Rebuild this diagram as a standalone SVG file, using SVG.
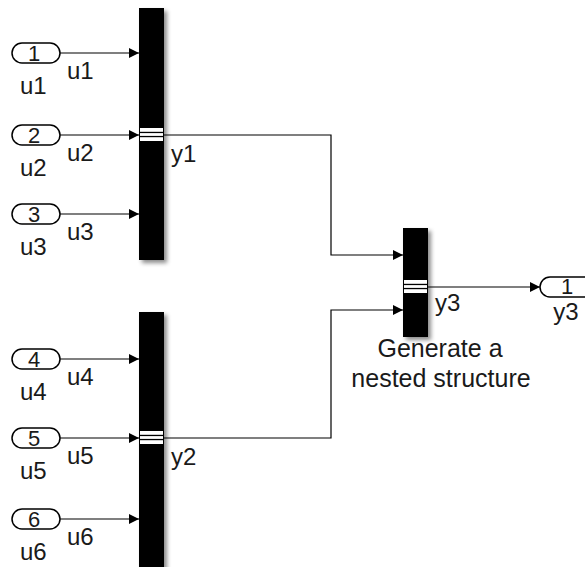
<svg xmlns="http://www.w3.org/2000/svg" width="585" height="567" viewBox="0 0 585 567">
<defs>
<style>
text{font-family:"Liberation Sans",Arial,sans-serif;fill:#1a1a1a;font-size:24px}
.pill{fill:#fff;stroke:#000;stroke-width:1.5}
.bar{fill:#000}
.wire{fill:none;stroke:#000;stroke-width:1.2}
.num{text-anchor:middle;font-size:22px}
.mid{text-anchor:middle}
.note{text-anchor:middle;font-size:25px}
</style>
<marker id="arr" viewBox="0 0 10 10" refX="10" refY="5" markerWidth="11" markerHeight="10" markerUnits="userSpaceOnUse" orient="auto">
<path d="M0,0 L10,5 L0,10 z" fill="#000"/>
</marker>
<filter id="sh" x="-50%" y="-10%" width="200%" height="120%">
<feDropShadow dx="3" dy="3" stdDeviation="2" flood-color="#000" flood-opacity="0.45"/>
</filter>
</defs>
<rect width="585" height="567" fill="#fff"/>
<g id="connectors">
<path class="wire" marker-end="url(#arr)" d="M60,53 H139"/>
<path class="wire" marker-end="url(#arr)" d="M60,135 H139"/>
<path class="wire" marker-end="url(#arr)" d="M60,214 H139"/>
<path class="wire" marker-end="url(#arr)" d="M60,359 H139"/>
<path class="wire" marker-end="url(#arr)" d="M60,438 H139"/>
<path class="wire" marker-end="url(#arr)" d="M60,519 H139"/>
<path class="wire" marker-end="url(#arr)" d="M164,135 H331 V255 H403"/>
<path class="wire" marker-end="url(#arr)" d="M164,438 H331 V310 H403"/>
<path class="wire" marker-end="url(#arr)" d="M428,287 H540"/>
<text x="67" y="79">u1</text>
<text x="67" y="161">u2</text>
<text x="67" y="240">u3</text>
<text x="67" y="385">u4</text>
<text x="67" y="464">u5</text>
<text x="67" y="545">u6</text>
<text x="171" y="162">y1</text>
<text x="171" y="465">y2</text>
<text x="435" y="311">y3</text>
</g>
<g id="in1"><rect class="pill" x="12" y="43" width="48" height="20" rx="10"/><text class="num" x="34" y="61">1</text><text x="20" y="94">u1</text></g>
<g id="in2"><rect class="pill" x="12" y="125" width="48" height="20" rx="10"/><text class="num" x="34" y="143">2</text><text x="20" y="176">u2</text></g>
<g id="in3"><rect class="pill" x="12" y="204" width="48" height="20" rx="10"/><text class="num" x="34" y="222">3</text><text x="20" y="255">u3</text></g>
<g id="in4"><rect class="pill" x="12" y="349" width="48" height="20" rx="10"/><text class="num" x="34" y="367">4</text><text x="20" y="400">u4</text></g>
<g id="in5"><rect class="pill" x="12" y="428" width="48" height="20" rx="10"/><text class="num" x="34" y="446">5</text><text x="20" y="479">u5</text></g>
<g id="in6"><rect class="pill" x="12" y="509" width="48" height="20" rx="10"/><text class="num" x="34" y="527">6</text><text x="20" y="560">u6</text></g>
<g id="bus1"><rect class="bar" filter="url(#sh)" x="139" y="8" width="25" height="252"/><rect x="140" y="128" width="23" height="13" fill="#fff"/><rect x="140" y="131.8" width="23" height="1.3" fill="#000"/><rect x="140" y="135.9" width="23" height="1.3" fill="#000"/></g>
<g id="bus2"><rect class="bar" filter="url(#sh)" x="139" y="312" width="25" height="262"/><rect x="140" y="431" width="23" height="13" fill="#fff"/><rect x="140" y="434.8" width="23" height="1.3" fill="#000"/><rect x="140" y="438.9" width="23" height="1.3" fill="#000"/></g>
<g id="bus3"><rect class="bar" filter="url(#sh)" x="403" y="228" width="25" height="109"/><rect x="404" y="280" width="23" height="13" fill="#fff"/><rect x="404" y="283.8" width="23" height="1.3" fill="#000"/><rect x="404" y="287.9" width="23" height="1.3" fill="#000"/><text class="note" x="440" y="357">Generate a</text><text class="note" x="441" y="387">nested structure</text></g>
<g id="out1"><rect class="pill" x="540" y="277" width="60" height="20" rx="10"/><text class="num" x="567" y="294">1</text><text class="mid" x="566" y="320">y3</text></g>
</svg>
